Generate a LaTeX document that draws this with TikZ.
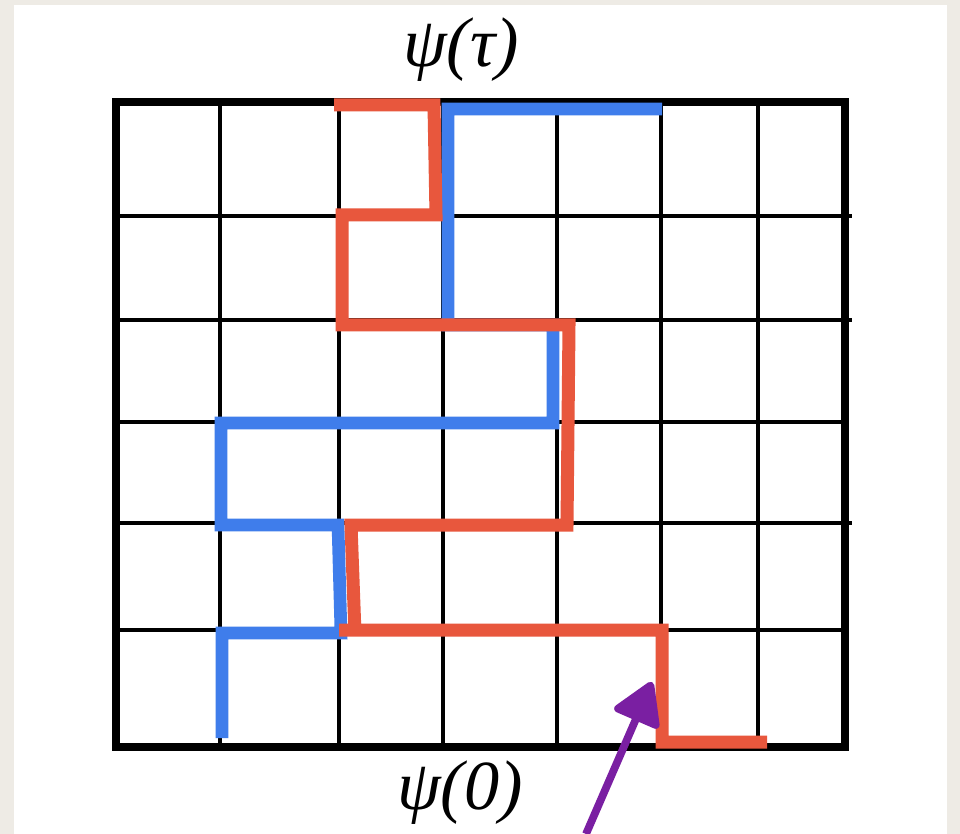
\documentclass[tikz,border=0pt]{standalone}
\usepackage{fontspec}
\setmainfont{Liberation Serif}
\usepackage{tikz}
\usetikzlibrary{arrows.meta}
\definecolor{fondo}{HTML}{EEEBE5}
\definecolor{rojo}{HTML}{E8573D}
\definecolor{azul}{HTML}{3F7DEB}
\definecolor{morado}{HTML}{7A1FA2}
\tikzset{
  rejilla/.style={black,line width=1.9pt},
  marco/.style={black,line width=5pt},
  caminorojo/.style={rojo,line width=7.4pt},
  caminoazul/.style={azul,line width=7.2pt},
  flecha/.style={-{Triangle[length=26pt,width=30pt,round]},morado,line width=4.4pt},
  etiqueta/.style={font=\itshape\fontsize{40}{44}\selectfont,inner sep=0pt},
}

\begin{document}
\begin{tikzpicture}[x=0.02cm,y=-0.02cm]
  \useasboundingbox (0,0) rectangle (960,834);
  \fill[fondo] (0,0) rectangle (960,834);
  \fill[white] (14,5) rectangle (947,834);
  % rejilla
  \foreach \x in {220,339,443,557,661,758}
    \draw[rejilla] (\x,102) -- (\x,747);
  \foreach \y in {216,320,523}
    \draw[rejilla] (116,\y) -- (852,\y);
  \foreach \y in {422,630}
    \draw[rejilla] (116,\y) -- (845,\y);
  \draw[marco] (116,102) rectangle (845,747);
  % caminos
  \draw[caminoazul] (222,738) -- (222,633) -- (341,633) -- (338,525) -- (221,525) -- (221,423)
    -- (553,423) -- (553,325) -- (448,325) -- (448,109) -- (662,109);
  \draw[caminorojo] (767,742) -- (662,742) -- (662,630) -- (339,630)
    (355,634) -- (351,525) -- (567,525) -- (569,325) -- (342,325) -- (342,215)
    -- (436,215) -- (434,105) -- (334,105);
  % etiquetas
  \node[etiqueta] (psitau) at (461,50) {ψ(τ)};
  \node[etiqueta] (psicero) at (460,793) {ψ(0)};
  \coordinate (cola) at (586,834);
  \coordinate (punta) at (652,682);
  \draw[flecha] (cola) -- (punta);
\end{tikzpicture}
\end{document}
